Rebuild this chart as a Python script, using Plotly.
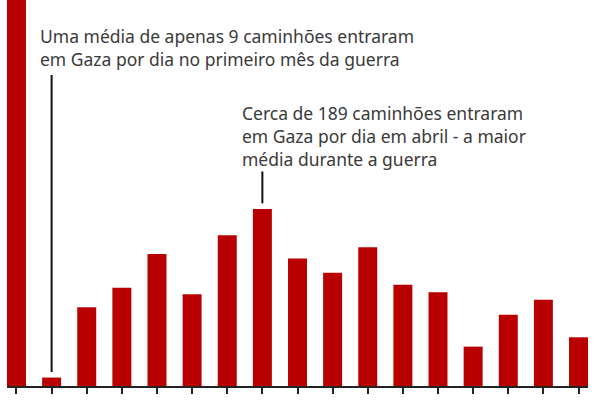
import plotly.graph_objects as go

categories = [f"m{i}" for i in range(17)]
values = [500, 9, 84, 105, 141, 98, 161, 189, 136, 121, 148, 108, 100, 42, 76, 92, 52]

note1 = "Uma média de apenas 9 caminhões entraram<br>em Gaza por dia no primeiro mês da guerra"
note2 = "Cerca de 189 caminhões entraram<br>em Gaza por dia em abril - a maior<br>média durante a guerra"

RED = "#b80000"
TXT = "#3a3a3a"
FONT = "Noto Sans"

fig = go.Figure(go.Bar(x=list(range(len(values))), y=values, marker_color=RED,
                       marker_line_width=0, hoverinfo="skip"))

fig.update_layout(
    width=600, height=400,
    margin=dict(l=7, r=12, t=0, b=14),
    paper_bgcolor="white", plot_bgcolor="white",
    bargap=0.46, showlegend=False,
    font=dict(family=FONT, color=TXT),
    xaxis=dict(range=[-0.27, 16.27], showgrid=False, zeroline=False,
               showline=True, linecolor="#222", linewidth=2,
               ticks="outside", ticklen=6, tickwidth=2, tickcolor="#222",
               tickvals=list(range(len(values))), showticklabels=False, fixedrange=True),
    yaxis=dict(range=[0, 412], showgrid=False, zeroline=False, showticklabels=False,
               showline=False, fixedrange=True),
)

# leader lines
fig.add_shape(type="line", xref="x", yref="y", x0=1, x1=1, y0=15, y1=332,
              line=dict(color="#111", width=2))
fig.add_shape(type="line", xref="x", yref="y", x0=7, x1=7, y0=195, y1=229,
              line=dict(color="#111", width=2))

PW, PH = 581, 386
def add_note(text, left_px, top_px):
    fig.add_annotation(text=text, xref="paper", yref="paper",
                       x=(left_px - 7) / PW, y=1 - top_px / PH,
                       xanchor="left", yanchor="top", align="left",
                       showarrow=False, borderpad=0,
                       font=dict(size=17.5, color=TXT, family=FONT))

add_note(note1, 39, 23)
add_note(note2, 241, 100)

fig.write_html("out.html")
